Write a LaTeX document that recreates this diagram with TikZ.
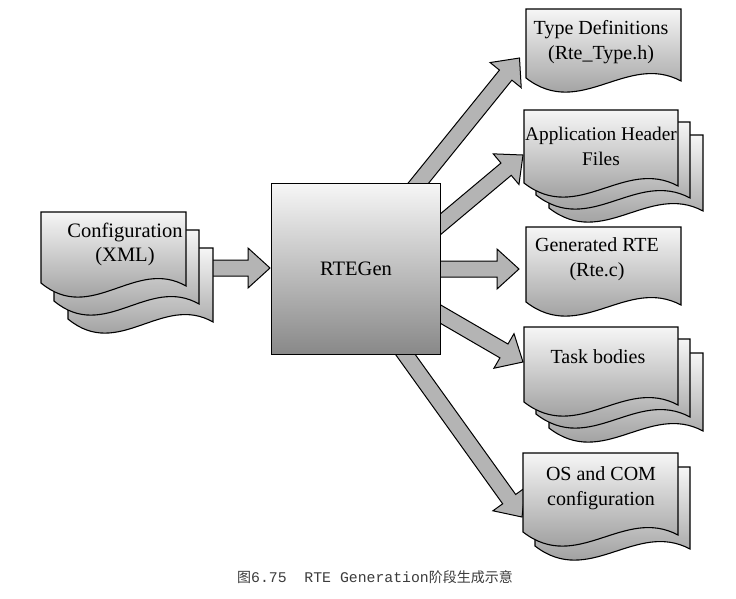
\documentclass[tikz,border=0pt]{standalone}
\usepackage{fontspec}
\setmainfont{Liberation Serif}
\newfontfamily\cjkfont{Noto Sans CJK SC}
\newfontfamily\capmono{Liberation Mono}
\usetikzlibrary{calc}
\definecolor{shtop}{HTML}{F6F6F6}
\definecolor{shbot}{HTML}{888888}
\definecolor{arrfill}{HTML}{B4B4B4}
\definecolor{captxt}{HTML}{3C3C3C}
\tikzset{
  docshape/.style={draw=black, line width=1.1pt, top color=shtop, bottom color=shbot},
  barrow/.style={draw=black, line width=1pt, fill=arrfill, line join=miter},
  lbl/.style={align=center, inner sep=0pt, font=\fontsize{20}{25}\selectfont},
  genbox/.style={draw=black, line width=1.1pt, top color=shtop, bottom color=shbot,
    inner sep=0pt, font=\fontsize{20.5}{25}\selectfont},
}
% #1 x, #2 y (pixels, downward), #3 width, #4 height at left edge
\newcommand\docsheet[4]{%
  \draw[docshape] (#1,{-(#2)}) -- ({#1+#3},{-(#2)}) -- ({#1+#3},{-(#2+#4+3)})
    .. controls ({#1+0.65*#3},{-(#2+#4-26)}) and ({#1+0.35*#3},{-(#2+#4+42)})
    .. (#1,{-(#2+#4)}) -- cycle;}
% block arrow from tail coordinate #1 to tip coordinate #2
\newcommand\blockarrow[2]{%
  \draw[barrow] let \p1=(#1), \p2=(#2),
      \n1={atan2(\y2-\y1,\x2-\x1)}, \n2={veclen(\x2-\x1,\y2-\y1)-22pt} in
    ($(\p1)+({\n1+90}:8pt)$) -- ($(\p1)+(\n1:\n2)+({\n1+90}:8pt)$)
    -- ($(\p1)+(\n1:\n2)+({\n1+90}:20pt)$) -- (\p2)
    -- ($(\p1)+(\n1:\n2)+({\n1-90}:20pt)$) -- ($(\p1)+(\n1:\n2)+({\n1-90}:8pt)$)
    -- ($(\p1)+({\n1-90}:8pt)$) -- cycle;}

\begin{document}
\begin{tikzpicture}[x=1pt,y=1pt]
\useasboundingbox (0,0) rectangle (736,-598);
\fill[white] (0,0) rectangle (736,-598);

% arrow end points
\coordinate (a0s) at (205,-268); \coordinate (a0e) at (270,-268);
\coordinate (a1s) at (412,-191); \coordinate (a1e) at (519.5,-58);
\coordinate (a2s) at (430,-233); \coordinate (a2e) at (523,-155);
\coordinate (a3s) at (430,-269); \coordinate (a3e) at (519,-269);
\coordinate (a4s) at (430,-308); \coordinate (a4e) at (523,-362);
\coordinate (a5s) at (400,-347); \coordinate (a5e) at (522,-517);

\blockarrow{a0s}{a0e}
\blockarrow{a1s}{a1e}
\blockarrow{a2s}{a2e}
\blockarrow{a3s}{a3e}
\blockarrow{a4s}{a4e}
\blockarrow{a5s}{a5e}

% central box
\node[genbox, minimum width=169pt, minimum height=171pt, anchor=north west]
  (rtegen) at (271,-183) {RTEGen};

% configuration stack
\docsheet{68}{248}{145}{71}
\docsheet{54}{230}{145}{71}
\docsheet{41}{212}{145}{71}
\node[lbl, font=\fontsize{20.5}{24}\selectfont] (config) at (125,-244) {Configuration\\(XML)};

% type definitions
\docsheet{526}{9}{155}{69}
\node[lbl] (typedef) at (601,-42) {Type Definitions\\(Rte\_Type.h)};

% application header files
\docsheet{549}{135}{154}{73}
\docsheet{536}{122}{154}{73}
\docsheet{524}{110}{154}{73}
\node[lbl, font=\fontsize{19.3}{25}\selectfont] (apphdr) at (601,-146) {Application Header\\Files};

% generated RTE
\docsheet{526}{227}{155}{75}
\node[lbl] (genrte) at (597,-259) {Generated RTE\\(Rte.c)};

% task bodies
\docsheet{549}{353}{154}{75}
\docsheet{536}{339}{154}{75}
\docsheet{524}{327}{154}{75}
\node[lbl] (tasks) at (598,-357) {Task bodies};

% OS and COM configuration
\docsheet{535}{467}{155}{79}
\docsheet{523}{453}{155}{79}
\node[lbl] (oscom) at (601,-488) {OS and COM\\configuration};

% caption
\node[anchor=west, text=captxt, inner sep=0pt] (caption) at (237,-577)
  {{\fontsize{14}{16}\cjkfont 图}{\fontsize{14.8}{16}\capmono 6.75\ \ RTE Generation}{\fontsize{14}{16}\cjkfont 阶段生成示意}};
\end{tikzpicture}
\end{document}
